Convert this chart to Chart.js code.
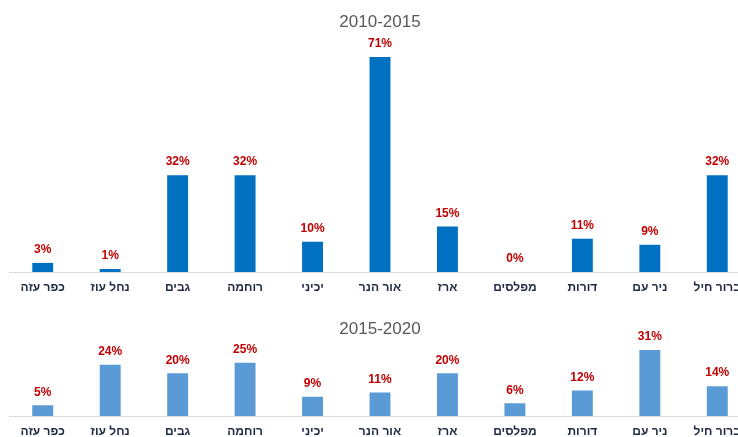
<!DOCTYPE html>
<html>
<head>
<meta charset="utf-8">
<script src="https://cdn.jsdelivr.net/npm/chart.js@4/dist/chart.umd.min.js"></script>
<style>
  html, body { margin: 0; padding: 0; background: #fff; overflow: hidden; }
  #wrap { position: relative; width: 738px; height: 437px; overflow: hidden; }
  #top { position: absolute; left: 0; top: 0; }
  #bottom { position: absolute; left: 0; top: 300px; }
</style>
</head>
<body>
<div id="wrap">
  <canvas id="top" width="760" height="307"></canvas>
  <canvas id="bottom" width="760" height="152"></canvas>
</div>
<script>
// settlements, left to right
const categories = ["כפר עזה", "נחל עוז", "גבים", "רוחמה", "יכיני", "אור הנר", "ארז", "מפלסים", "דורות", "ניר עם", "ברור חיל"];

// percent per period
const values2010 = [3, 1, 32, 32, 10, 71, 15, 0, 11, 9, 32];
const values2015 = [5, 24, 20, 25, 9, 11, 20, 6, 12, 31, 14];

const title2010 = "2010-2015";
const title2015 = "2015-2020";

const FONT = '"Liberation Sans", Arial, sans-serif';

//draws the red % label over each bar
const barLabels = {
  id: "barLabels",
  afterDatasetsDraw(chart) {
    const ctx = chart.ctx;
    const meta = chart.getDatasetMeta(0);
    const data = chart.data.datasets[0].data;
    ctx.save();
    ctx.font = "bold 12px " + FONT;
    ctx.fillStyle = "#C00000";
    ctx.textAlign = "center";
    ctx.textBaseline = "middle";
    meta.data.forEach((bar, i) => {
      ctx.fillText(data[i] + "%", bar.x, bar.y - 13);
    });
    ctx.restore();
  },
};

function renderChart(id, title, values, color, yMax, titlePad, bottomPad) {
  const ctx = document.getElementById(id).getContext("2d");
  return new Chart(ctx, {
    type: "bar",
    data: {
      labels: categories,
      datasets: [
        {
          data: values,
          backgroundColor: color,
          barPercentage: 0.31,
          categoryPercentage: 1,
        },
      ],
    },
    options: {
      responsive: false,
      animation: false,
      layout: { padding: { left: 9, right: 9, top: 0, bottom: bottomPad } },
      plugins: {
        legend: { display: false },
        tooltip: { enabled: false },
        title: {
          display: true,
          text: title,
          color: "#595959",
          font: { family: FONT, size: 17, weight: "normal" },
          padding: titlePad,
        },
      },
      scales: {
        x: {
          grid: { display: false, drawTicks: false },
          border: { display: true, color: "#D9D9D9", width: 1 },
          ticks: {
            color: "#1F2A44",
            font: { family: FONT, size: 12, weight: "bold" },
            padding: 8,
            maxRotation: 0,
            autoSkip: false,
          },
        },
        y: {
          display: false,
          min: 0,
          max: yMax,
        },
      },
    },
    plugins: [barLabels],
  });
}

renderChart("top", title2010, values2010, "#0070C0", 78, { top: 12, bottom: 3.5 }, 4.6);
renderChart("bottom", title2015, values2015, "#5B9BD5", 35, { top: 19, bottom: 2 }, 5.6);
</script>
</body>
</html>
